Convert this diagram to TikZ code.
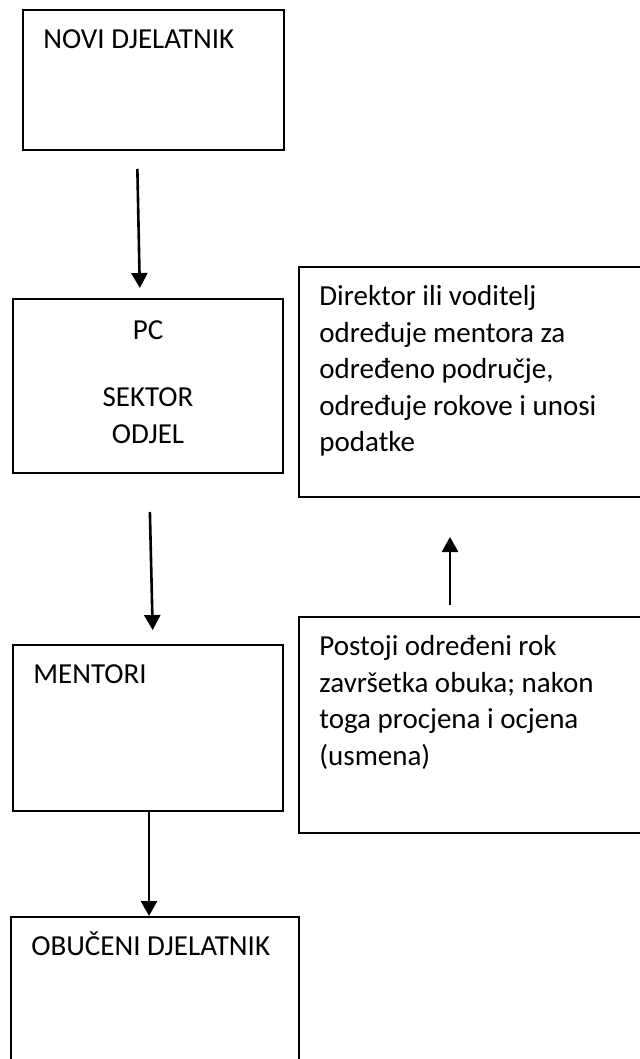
\documentclass[tikz,border=0pt]{standalone}
\usepackage{fontspec}
\setmainfont{Carlito}
\usetikzlibrary{arrows.meta,positioning}
\tikzset{
    %Define standard arrow tip
    >={Triangle[length=7.5pt,width=8pt]},
    %Define style for boxes
    kutija/.style={
           rectangle,
           draw=black, line width=1pt,
           inner sep=0pt,
           anchor=north west},
    %Define style for text in boxes
    tekst/.style={
           inner sep=0pt,
           align=left,
           anchor=base west,
           font=\fontsize{14.5pt}{18.3pt}\selectfont},
    % Define arrow style
    strelica/.style={
           ->,
           line width=1.3pt}
}
\begin{document}
\begin{tikzpicture}
\useasboundingbox (0,0) rectangle (320pt,-529.5pt);
 %boxes
\node[kutija, minimum width=130.5pt, minimum height=70pt] (novi) at (11pt,-4.5pt) {};
\node[kutija, minimum width=135pt, minimum height=87pt] (pc) at (6pt,-149pt) {};
\node[kutija, minimum width=175pt, minimum height=115pt] (direktor) at (149pt,-133pt) {};
\node[kutija, minimum width=135pt, minimum height=83pt] (mentori) at (6pt,-322pt) {};
\node[kutija, minimum width=175pt, minimum height=108pt] (rok) at (149pt,-308pt) {};
\node[kutija, minimum width=144pt, minimum height=80pt] (obuceni) at (5pt,-458pt) {};

 %texts (base of a multi-line node is its last line)
\node[tekst] (tnovi) at ([shift={(10.5pt,-19.75pt)}]novi.north west) {NOVI DJELATNIK};
\node[tekst, align=center, anchor=base] (tpc) at ([yshift=-72.55pt]pc.north) {PC\\[15.2pt]SEKTOR\\ODJEL};
\node[tekst] (tdirektor) at ([shift={(10.5pt,-92.95pt)}]direktor.north west)
    {Direktor ili voditelj\\određuje mentora za\\određeno područje,\\određuje rokove i unosi\\podatke};
\node[tekst] (tmentori) at ([shift={(10.5pt,-19.75pt)}]mentori.north west) {MENTORI};
\node[tekst] (trok) at ([shift={(10.5pt,-74.65pt)}]rok.north west)
    {Postoji određeni rok\\završetka obuka; nakon\\toga procjena i ocjena\\(usmena)};
\node[tekst] (tobuceni) at ([shift={(10.5pt,-19.75pt)}]obuceni.north west) {OBUČENI DJELATNIK};

 %arrows
\draw[strelica, shorten <=9pt, shorten >=5pt] ([xshift=-8.25pt]novi.south) -- ([xshift=-4pt]pc.north);
\draw[strelica, shorten <=19pt, shorten >=7pt] ([xshift=0.5pt]pc.south) -- ([xshift=2.5pt]mentori.north);
\draw[strelica, shorten <=5.5pt, shorten >=19.5pt] ([xshift=76pt]rok.north west) -- ([xshift=76pt]direktor.south west);
\draw[strelica] ([xshift=0.5pt]mentori.south) -- ([xshift=-3pt]obuceni.north);
\end{tikzpicture}
\end{document}
